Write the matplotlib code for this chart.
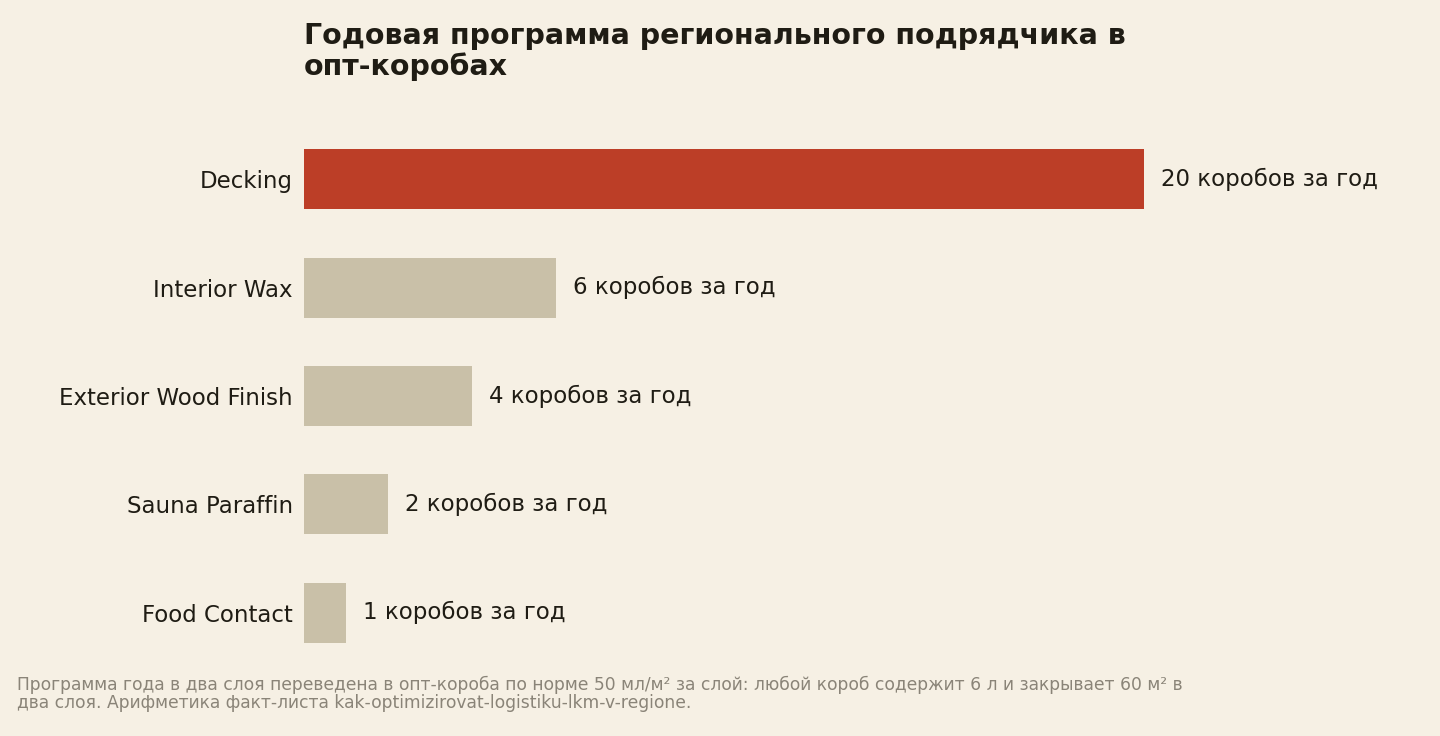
import matplotlib.pyplot as plt

plt.rcParams['font.family'] = ['DejaVu Sans']

categories = ["Decking", "Interior Wax", "Exterior Wood Finish", "Sauna Paraffin", "Food Contact"]
boxes = [20, 6, 4, 2, 1]
value_labels = [f"{v} коробов за год" for v in boxes]

bg = "#f6f0e4"
fig = plt.figure(figsize=(14.4, 7.36), dpi=100, facecolor=bg)
ax = fig.add_axes([304 / 1440, 69 / 736, 840 / 1440, 542 / 736])
ax.set_facecolor(bg)

colors = ["#bc3e27"] + ["#c9c0a8"] * (len(boxes) - 1)
ypos = range(len(categories))
ax.barh(ypos, boxes, height=0.555, color=colors)
for y, v, lab in zip(ypos, boxes, value_labels):
    ax.text(v + 0.4, y, lab, va="center", ha="left", fontsize=16.5, color="#1f1c14", clip_on=False)

ax.set_xlim(0, 20)
ax.set_ylim(4.5, -0.5)
ax.set_yticks(list(ypos))
ax.set_yticklabels(categories, fontsize=16.5, color="#1f1c14")
ax.tick_params(axis="y", length=0, pad=8)
ax.set_xticks([])
for s in ax.spines.values():
    s.set_visible(False)

fig.text(304 / 1440, 1 - 22 / 736, "Годовая программа регионального подрядчика в\nопт-коробах",
         fontsize=20.5, fontweight="bold", color="#1f1c14", va="top", ha="left", linespacing=1.1)
fig.text(17 / 1440, 1 - 676 / 736,
         "Программа года в два слоя переведена в опт-короба по норме 50 мл/м² за слой: любой короб содержит 6 л и закрывает 60 м² в\n"
         "два слоя. Арифметика факт-листа kak-optimizirovat-logistiku-lkm-v-regione.",
         fontsize=12.3, color="#8a8478", va="top", ha="left", linespacing=1.0)

fig.savefig("out.png", dpi=100, facecolor=bg)
